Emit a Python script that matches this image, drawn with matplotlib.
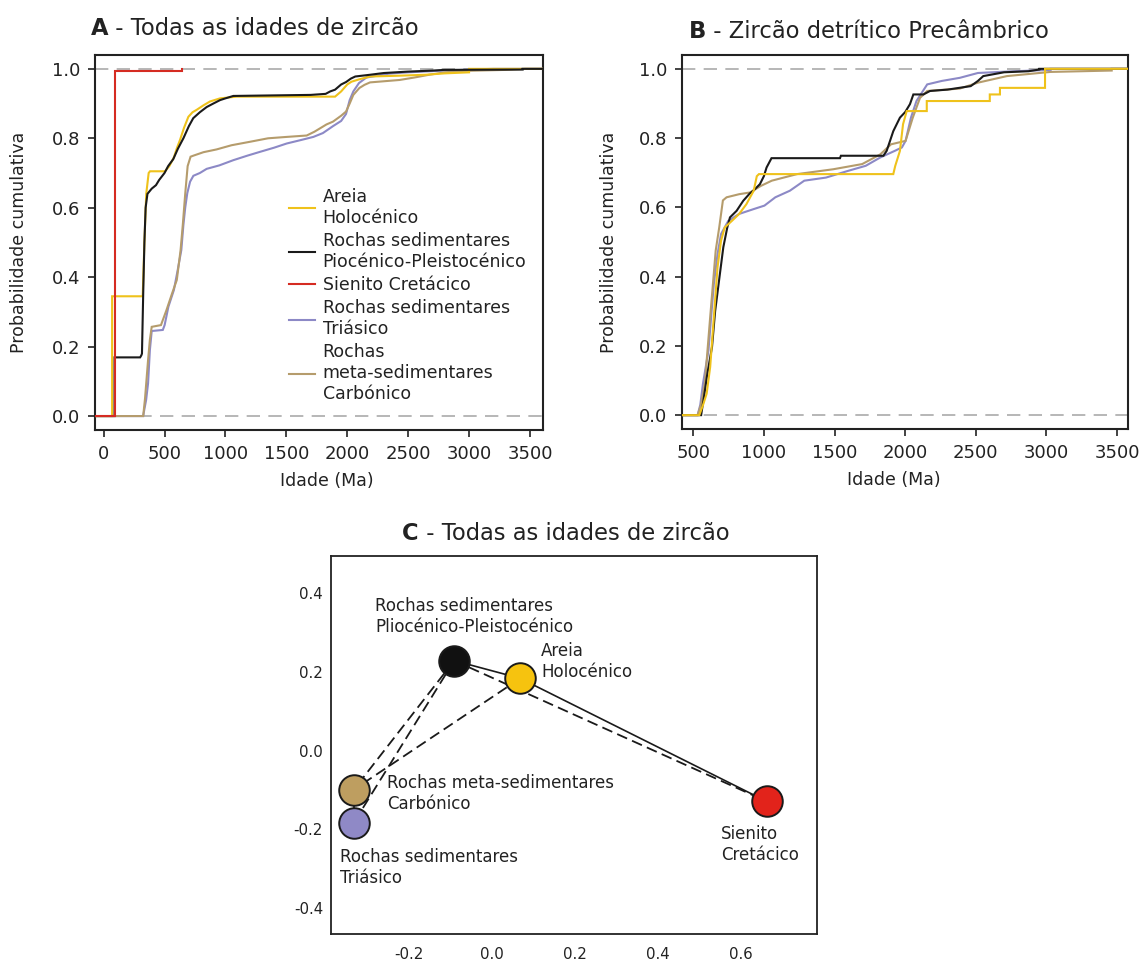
import matplotlib

matplotlib.use("Agg")
import matplotlib.pyplot as plt
from matplotlib.lines import Line2D
from matplotlib.ticker import FormatStrFormatter

plt.rcParams["font.family"] = ["DejaVu Sans"]
plt.rcParams["axes.unicode_minus"] = False

GOLD = "#EFC21B"
BLACK = "#1A1A1A"
RED = "#D52B22"
PURPLE = "#8C89C6"
TAN = "#B59C6C"
GREY = "#AAAAAA"
TXT = "#222222"

# ---- A: all zircon ages (age in Ma, cumulative probability) ----
a_areia_age = [70, 70, 321, 335, 350, 370, 381, 504, 540, 577, 600, 627, 660, 696, 730, 764,
               820, 873, 956, 1093, 1900, 1950, 2000, 2035, 2100, 2187, 2400, 2643, 2800, 3000, 3000]
a_areia_cdf = [0.0, 0.345, 0.345, 0.50, 0.64, 0.70, 0.705, 0.705, 0.72, 0.745, 0.77, 0.795, 0.83,
               0.862, 0.875, 0.882, 0.895, 0.906, 0.915, 0.92, 0.92, 0.935, 0.955, 0.963, 0.97,
               0.978, 0.98, 0.983, 0.987, 0.99, 1.0]

a_plio_age = [90, 90, 300, 310, 315, 325, 335, 345, 360, 395, 430, 456, 500, 530, 572, 610, 655,
              700, 736, 790, 846, 900, 956, 1000, 1065, 1700, 1823, 1860, 1900, 1950, 1990, 2030,
              2066, 2187, 2300, 2491, 2700, 2795, 3440, 3440]
a_plio_cdf = [0.0, 0.169, 0.169, 0.175, 0.18, 0.35, 0.50, 0.60, 0.64, 0.655, 0.665, 0.68, 0.70,
              0.72, 0.74, 0.77, 0.80, 0.835, 0.858, 0.875, 0.89, 0.90, 0.91, 0.915, 0.922, 0.925,
              0.928, 0.935, 0.94, 0.955, 0.962, 0.972, 0.978, 0.983, 0.988, 0.992, 0.995, 0.997,
              0.998, 1.0]

a_sien_age = [90, 90, 97, 97, 640, 640]
a_sien_cdf = [0.0, 0.78, 0.78, 0.995, 0.995, 1.0]

a_tria_age = [325, 335, 349, 365, 380, 395, 486, 501, 532, 577, 608, 638, 655, 670, 687, 710, 737,
              790, 846, 950, 1065, 1180, 1284, 1400, 1503, 1620, 1722, 1800, 1883, 1950, 1990,
              2020, 2050, 2096, 2157, 2339, 2500, 2795, 3100, 3200]
a_tria_cdf = [0.0, 0.02, 0.046, 0.094, 0.19, 0.245, 0.248, 0.262, 0.315, 0.363, 0.42, 0.478,
              0.55, 0.60, 0.642, 0.675, 0.692, 0.70, 0.712, 0.722, 0.737, 0.75, 0.761, 0.773,
              0.785, 0.795, 0.804, 0.815, 0.835, 0.85, 0.87, 0.91, 0.935, 0.959, 0.975, 0.986,
              0.99, 0.995, 0.999, 1.0]

a_carb_age = [325, 340, 365, 380, 395, 471, 516, 562, 601, 632, 650, 670, 690, 714, 737, 820,
              928, 1050, 1202, 1350, 1503, 1667, 1731, 1830, 1883, 1950, 1990, 2020, 2050, 2100,
              2142, 2187, 2430, 2550, 2673, 2800, 2947, 3300, 3463]
a_carb_cdf = [0.0, 0.05, 0.161, 0.22, 0.257, 0.262, 0.305, 0.353, 0.392, 0.478, 0.55, 0.64, 0.72,
              0.747, 0.75, 0.76, 0.768, 0.78, 0.79, 0.80, 0.804, 0.808, 0.819, 0.84, 0.848, 0.865,
              0.877, 0.90, 0.925, 0.945, 0.954, 0.961, 0.968, 0.975, 0.983, 0.99, 0.994, 0.997,
              1.0]

# ---- B: Precambrian detrital zircon ----
b_areia_age = [543, 570, 595, 620, 646, 672, 697, 723, 774, 825, 876, 928, 950, 965, 1916, 1930,
               1963, 1985, 2011, 2153, 2153, 2599, 2599, 2671, 2671, 2990, 2990]
b_areia_cdf = [0.0, 0.03, 0.062, 0.139, 0.283, 0.427, 0.504, 0.542, 0.561, 0.581, 0.609, 0.648,
               0.69, 0.696, 0.696, 0.72, 0.763, 0.84, 0.878, 0.878, 0.907, 0.907, 0.926, 0.926,
               0.945, 0.945, 1.0]

b_plio_age = [556, 575, 600, 633, 655, 680, 713, 740, 760, 807, 854, 900, 925, 972, 1000, 1019,
              1054, 1539, 1545, 1846, 1869, 1893, 1916, 1963, 2000, 2034, 2058, 2129, 2176, 2300,
              2464, 2515, 2553, 2700, 2873, 2950, 2950]
b_plio_cdf = [0.0, 0.05, 0.12, 0.197, 0.30, 0.38, 0.485, 0.54, 0.571, 0.59, 0.619, 0.64, 0.648,
              0.667, 0.69, 0.715, 0.742, 0.742, 0.749, 0.749, 0.763, 0.792, 0.82, 0.859, 0.875,
              0.898, 0.926, 0.926, 0.936, 0.94, 0.95, 0.965, 0.979, 0.99, 0.993, 0.998, 1.0]

b_tria_age = [531, 550, 569, 608, 630, 646, 672, 697, 748, 825, 928, 1004, 1081, 1184, 1286, 1440,
              1593, 1721, 1824, 1926, 1977, 2003, 2041, 2080, 2156, 2259, 2387, 2515, 2771, 3030,
              3030]
b_tria_cdf = [0.0, 0.03, 0.091, 0.187, 0.30, 0.379, 0.465, 0.523, 0.561, 0.581, 0.595, 0.605,
              0.629, 0.648, 0.677, 0.686, 0.705, 0.72, 0.744, 0.763, 0.773, 0.792, 0.859, 0.907,
              0.955, 0.965, 0.974, 0.988, 0.993, 0.997, 1.0]

b_carb_age = [531, 555, 582, 620, 659, 684, 700, 710, 736, 825, 902, 979, 1056, 1235, 1491, 1696,
              1824, 1900, 2003, 2054, 2105, 2156, 2387, 2515, 2720, 3027, 3462, 3462]
b_carb_cdf = [0.0, 0.03, 0.091, 0.283, 0.475, 0.542, 0.59, 0.62, 0.629, 0.638, 0.643, 0.662,
              0.677, 0.696, 0.71, 0.725, 0.753, 0.782, 0.792, 0.859, 0.916, 0.936, 0.943, 0.96,
              0.979, 0.991, 0.995, 1.0]

legend_labels = ["Areia\nHolocénico", "Rochas sedimentares\nPiocénico-Pleistocénico",
                 "Sienito Cretácico", "Rochas sedimentares\nTriásico",
                 "Rochas\nmeta-sedimentares\nCarbónico"]
legend_colors = [GOLD, BLACK, RED, PURPLE, TAN]

# ---- C: MDS map of all zircon ages ----
c_labels = ["Areia\nHolocénico", "Rochas sedimentares\nPliocénico-Pleistocénico",
            "Sienito\nCretácico", "Rochas sedimentares\nTriásico",
            "Rochas meta-sedimentares\nCarbónico"]
c_x = [0.068, -0.091, 0.662, -0.333, -0.333]
c_y = [0.184, 0.229, -0.129, -0.183, -0.099]
c_colors = ["#F6C30F", "#111111", "#E2231B", "#8F89C6", "#BE9E60"]
c_solid = [(1, 0), (0, 2), (4, 3)]
c_dashed = [(1, 2), (1, 4), (1, 3), (0, 4)]
c_offsets = [(15, 12), (-57, 32), (-33, -31), (-10, -32), (24, -3)]


def draw_cdf(ax, ages, cdf, color, extend_right=True, lw=1.5):
    # curves run out to the left edge at 0 (and to the right edge at 1 when asked)
    x0, x1 = ax.get_xlim()
    xs = [x0] + list(ages)
    ys = [0.0] + list(cdf)
    if extend_right:
        xs.append(x1)
        ys.append(1.0)
    ax.plot(xs, ys, color=color, lw=lw, solid_joinstyle="miter", zorder=3)


def style_cdf_axes(ax, xlim, xticks):
    ax.set_xlim(*xlim)
    ax.set_ylim(-0.04, 1.04)
    ax.set_xticks(xticks)
    ax.set_yticks([0.0, 0.2, 0.4, 0.6, 0.8, 1.0])
    ax.yaxis.set_major_formatter(FormatStrFormatter("%.1f"))
    ax.tick_params(direction="out", length=5, width=1.2, pad=6, labelsize=13,
                   colors=TXT)
    for s in ax.spines.values():
        s.set_linewidth(1.5)
        s.set_color(TXT)
    for yv in (0.0, 1.0):
        ax.axhline(yv, color=GREY, lw=1.2, dashes=(8, 5), zorder=1)
    ax.set_ylabel("Probabilidade cumulativa", fontsize=12.5, color=TXT)
    ax.set_xlabel("Idade (Ma)", fontsize=12.5, color=TXT)


fig = plt.figure(figsize=(11.47, 9.61), dpi=100)
ax_a = fig.add_axes([0.0832, 0.5526, 0.3900, 0.3902])
ax_b = fig.add_axes([0.5949, 0.5536, 0.3885, 0.3892])
ax_c = fig.add_axes([0.2889, 0.0281, 0.4234, 0.3933])

# panel A
style_cdf_axes(ax_a, (-67, 3605), list(range(0, 3501, 500)))
draw_cdf(ax_a, a_tria_age, a_tria_cdf, PURPLE)
draw_cdf(ax_a, a_carb_age, a_carb_cdf, TAN)
draw_cdf(ax_a, a_areia_age, a_areia_cdf, GOLD)
draw_cdf(ax_a, a_plio_age, a_plio_cdf, BLACK)
draw_cdf(ax_a, a_sien_age, a_sien_cdf, RED, extend_right=False)
ax_a.yaxis.set_label_coords(-0.151, 0.5)
ax_a.xaxis.set_label_coords(0.518, -0.111)
handles = [Line2D([], [], color=c, lw=1.5) for c in legend_colors]
ax_a.legend(handles, legend_labels, loc="upper left", bbox_to_anchor=(0.432, 0.645),
            frameon=False, fontsize=12.5, handlelength=1.5, handletextpad=0.45,
            labelspacing=0.3, borderpad=0, borderaxespad=0, labelcolor=TXT)

# panel B
style_cdf_axes(ax_b, (423, 3577), list(range(500, 3501, 500)))
draw_cdf(ax_b, b_tria_age, b_tria_cdf, PURPLE)
draw_cdf(ax_b, b_carb_age, b_carb_cdf, TAN)
draw_cdf(ax_b, b_plio_age, b_plio_cdf, BLACK)
draw_cdf(ax_b, b_areia_age, b_areia_cdf, GOLD)
ax_b.yaxis.set_label_coords(-0.144, 0.5)
ax_b.xaxis.set_label_coords(0.475, -0.111)

# panel C
ax_c.set_xlim(-0.387, 0.783)
ax_c.set_ylim(-0.466, 0.495)
ax_c.set_xticks([-0.2, 0.0, 0.2, 0.4, 0.6])
ax_c.set_yticks([-0.4, -0.2, 0.0, 0.2, 0.4])
ax_c.xaxis.set_major_formatter(FormatStrFormatter("%.1f"))
ax_c.yaxis.set_major_formatter(FormatStrFormatter("%.1f"))
ax_c.tick_params(axis="x", length=0, pad=9.5, labelsize=10.8, colors=TXT)
ax_c.tick_params(axis="y", length=0, pad=6, labelsize=10.8, colors=TXT)
for s in ax_c.spines.values():
    s.set_linewidth(1.3)
    s.set_color(TXT)
for i, j in c_solid:
    ax_c.plot([c_x[i], c_x[j]], [c_y[i], c_y[j]], color=BLACK, lw=1.2, zorder=2)
for i, j in c_dashed:
    ax_c.plot([c_x[i], c_x[j]], [c_y[i], c_y[j]], color=BLACK, lw=1.3,
              dashes=(6, 3), zorder=2)
for x, y, col, lab, off in zip(c_x, c_y, c_colors, c_labels, c_offsets):
    ax_c.plot(x, y, "o", ms=22, mfc=col, mec=BLACK, mew=1.4, zorder=4)
    ax_c.annotate(lab, (x, y), xytext=off, textcoords="offset points", ha="left",
                  va="center", fontsize=12, color=TXT)

# titles: bold panel letter, then the rest in regular weight
for (x, y, letter, text) in [(0.079, 0.9636, "A", "Todas as idades de zircão"),
                             (0.6003, 0.9601, "B", "Zircão detrítico Precâmbrico"),
                             (0.3505, 0.4376, "C", "Todas as idades de zircão")]:
    t = fig.text(x, y, letter, fontsize=16.3, fontweight="bold", color=TXT,
                 va="baseline", ha="left")
    ax_a.annotate(" - " + text, xy=(1, 0), xycoords=t, va="bottom", ha="left",
                  fontsize=16.3, color=TXT, annotation_clip=False)

fig.savefig("out.png", dpi=100)
